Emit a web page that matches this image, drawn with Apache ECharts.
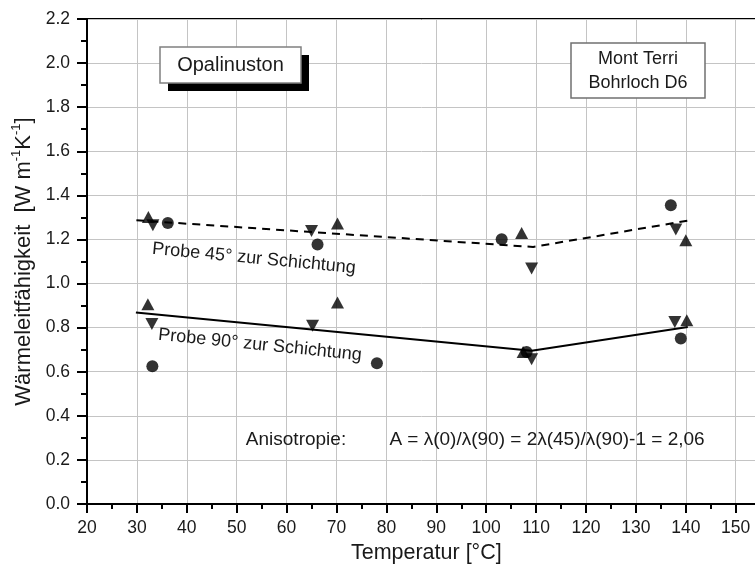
<!DOCTYPE html>
<html><head><meta charset="utf-8">
<script src="https://cdn.jsdelivr.net/npm/echarts@6/dist/echarts.min.js"></script>
<style>html,body{margin:0;padding:0;background:#fff}#c{width:755px;height:574px}</style>
</head><body><div id="c"></div>
<script>
const FONT = '"Liberation Sans", Arial, Helvetica, sans-serif';
// x range / ticks
const xMin = 20, xMax = 156, xStep = 10;
const yMin = 0, yMax = 2.2, yStep = 0.2;

// Probe 45° zur Schichtung  [temperature, conductivity]
const circles45 = [[36.2, 1.275], [66.2, 1.177], [103.1, 1.201], [137.0, 1.355]];
const up45      = [[32.3, 1.302], [70.2, 1.272], [107.1, 1.229], [140.0, 1.196]];
const down45    = [[33.2, 1.264], [65.0, 1.238], [109.1, 1.068], [138.0, 1.245]];
const fit45     = [[29.9, 1.287], [109.4, 1.166], [140.8, 1.287]];

// Probe 90° zur Schichtung
const circles90 = [[33.1, 0.625], [78.1, 0.638], [108.1, 0.690], [139.0, 0.751]];
const up90      = [[32.2, 0.906], [70.2, 0.914], [107.4, 0.690], [140.2, 0.834]];
const down90    = [[33.0, 0.816], [65.2, 0.808], [109.1, 0.657], [137.8, 0.826]];
const fit90     = [[29.8, 0.869], [109.1, 0.695], [140.4, 0.803]];

const xName = 'Temperatur [°C]';
const label45 = 'Probe 45° zur Schichtung';
const label90 = 'Probe 90° zur Schichtung';
const boxTitle = 'Opalinuston';
const siteLines = ['Mont Terri', 'Bohrloch D6'];
const anisoLabel = 'Anisotropie:';
const anisoFormula = 'A = λ(0)/λ(90) = 2λ(45)/λ(90)-1 = 2,06';

const TXT = '#1a1a1a';
const chart = echarts.init(document.getElementById('c'), null, {renderer: 'canvas'});
const left = 87, pxPerX = 4.99;
const right = 755 - left - (xMax - xMin) * pxPerX;

const sym = (name, data, symbol, size, rot) => ({
  name, type: 'scatter', data, symbol, symbolSize: size, symbolRotate: rot || 0,
  itemStyle: {color: '#000'}, z: 5
});

chart.setOption({
  animation: false,
  backgroundColor: '#fff',
  grid: {left: left, top: 19, right: right, bottom: 70, outerBoundsMode: 'none', containLabel: false,
         show: true, borderColor: '#000', borderWidth: 2},
  xAxis: {
    type: 'value', min: xMin, max: xMax, interval: xStep,
    name: xName, nameLocation: 'middle', nameGap: 38,
    nameTextStyle: {fontFamily: FONT, fontSize: 21.5, color: TXT},
    axisLine: {show: true, onZero: false, lineStyle: {color: '#000', width: 2}},
    axisTick: {show: true, inside: false, length: 9, lineStyle: {color: '#000', width: 2}},
    minorTick: {show: true, splitNumber: 2, length: 5, lineStyle: {color: '#000', width: 2}},
    axisLabel: {fontFamily: FONT, fontSize: 17.5, color: TXT, margin: 15,
      formatter: v => (Math.abs(v % 10) < 1e-6 ? String(v) : '')},
    splitLine: {show: true, lineStyle: {color: '#c4c4c4', width: 1}}
  },
  yAxis: {
    type: 'value', min: yMin, max: yMax, interval: yStep,
    name: '{a|Wärmeleitfähigkeit  [W m}{s|-1}{a|K}{s|-1}{a|]}',
    nameLocation: 'middle', nameGap: 49,
    nameTextStyle: {
      fontFamily: FONT, fontSize: 22, color: TXT,
      rich: {
        a: {fontFamily: FONT, fontSize: 22, color: TXT, lineHeight: 27},
        s: {fontFamily: FONT, fontSize: 13, color: TXT, lineHeight: 15, verticalAlign: 'top'}
      }
    },
    axisLine: {show: true, onZero: false, lineStyle: {color: '#000', width: 2}},
    axisTick: {show: true, inside: false, length: 10, lineStyle: {color: '#000', width: 2}},
    minorTick: {show: true, splitNumber: 2, length: 6, lineStyle: {color: '#000', width: 2}},
    axisLabel: {fontFamily: FONT, fontSize: 17.5, color: TXT, margin: 17,
      formatter: v => v.toFixed(1)},
    splitLine: {show: true, lineStyle: {color: '#c4c4c4', width: 1}}
  },
  series: [
    {name: 'fit45', type: 'line', data: fit45, symbol: 'none', z: 3,
     lineStyle: {color: '#000', width: 2, type: [8, 6]}},
    {name: 'fit90', type: 'line', data: fit90, symbol: 'none', z: 3,
     lineStyle: {color: '#000', width: 2}},
    sym('c45', circles45, 'circle', 12),
    sym('u45', up45, 'triangle', [13, 12]),
    sym('d45', down45, 'triangle', [13, 12], 180),
    sym('c90', circles90, 'circle', 12),
    sym('u90', up90, 'triangle', [13, 12]),
    sym('d90', down90, 'triangle', [13, 12], 180)
  ],
  graphic: [
    {type: 'rect', shape: {x: 168, y: 55, width: 141, height: 36}, style: {fill: '#000'}, z: 10},
    {type: 'rect', shape: {x: 160, y: 47, width: 141, height: 36}, style: {fill: '#fff', stroke: '#808080', lineWidth: 1.5}, z: 11},
    {type: 'text', x: 230.5, y: 65.5, z: 12, style: {text: boxTitle, font: '20px ' + FONT, fill: TXT, align: 'center', verticalAlign: 'middle'}},
    {type: 'rect', shape: {x: 571, y: 43, width: 134, height: 55}, style: {fill: '#fff', stroke: '#707070', lineWidth: 1.5}, z: 11},
    {type: 'text', x: 638, y: 59.5, z: 12, style: {text: siteLines[0], font: '18px ' + FONT, fill: TXT, align: 'center', verticalAlign: 'middle'}},
    {type: 'text', x: 638, y: 83, z: 12, style: {text: siteLines[1], font: '18px ' + FONT, fill: TXT, align: 'center', verticalAlign: 'middle'}},
    {type: 'text', x: 254, y: 258.5, rotation: -0.095, z: 12, style: {text: label45, font: '18px ' + FONT, fill: TXT, align: 'center', verticalAlign: 'middle'}},
    {type: 'text', x: 260, y: 345, rotation: -0.1, z: 12, style: {text: label90, font: '18px ' + FONT, fill: TXT, align: 'center', verticalAlign: 'middle'}},
    {type: 'text', x: 296, y: 439.5, z: 12, style: {text: anisoLabel, font: '19px ' + FONT, fill: TXT, align: 'center', verticalAlign: 'middle'}},
    {type: 'text', x: 547, y: 439.5, z: 12, style: {text: anisoFormula, font: '19px ' + FONT, fill: TXT, align: 'center', verticalAlign: 'middle'}}
  ]
});
</script>
</body></html>
